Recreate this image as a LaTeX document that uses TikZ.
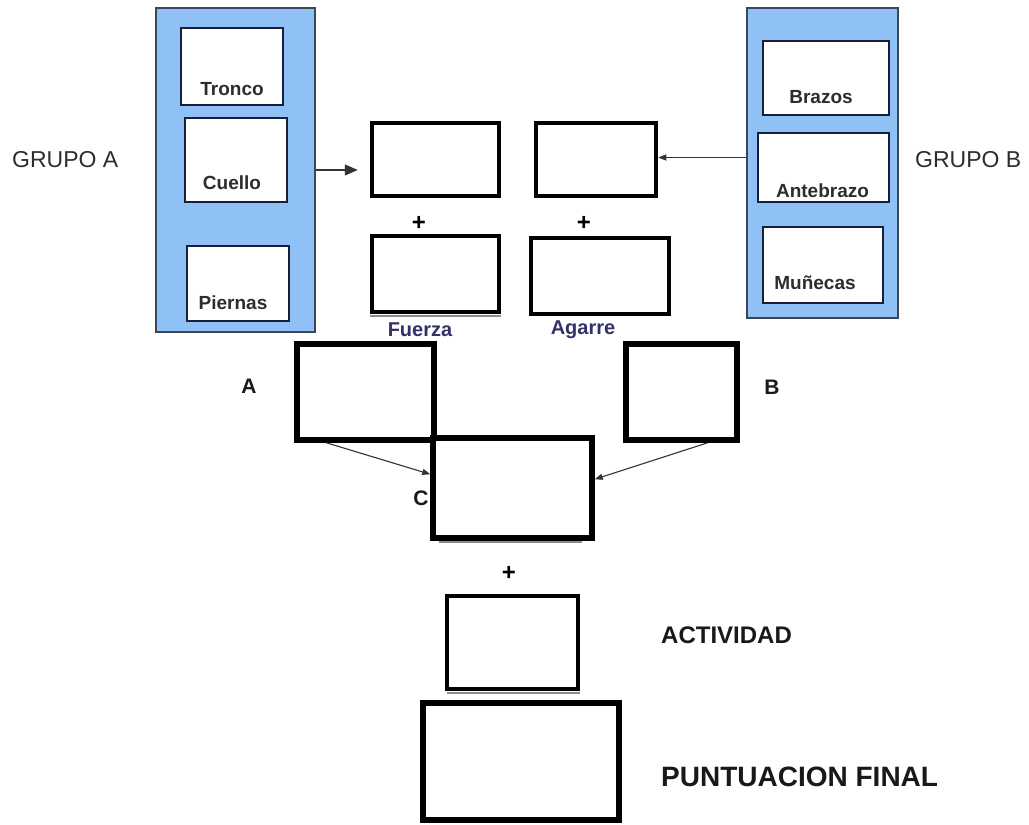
\documentclass[tikz,border=0pt]{standalone}
\usepackage{fontspec}
\setmainfont{Liberation Sans}
\usetikzlibrary{arrows.meta}
\definecolor{panelblue}{RGB}{143,193,246}
\definecolor{panelrim}{RGB}{60,70,85}
\definecolor{innerrim}{RGB}{25,30,55}
\definecolor{labelgray}{RGB}{45,45,45}
\definecolor{navytext}{RGB}{50,50,105}
\begin{document}
\begin{tikzpicture}[x=1pt,y=-1pt,
  panel/.style={draw=panelrim, line width=1.6pt, fill=panelblue, inner sep=0pt},
  partbox/.style={draw=innerrim, line width=2pt, fill=white, inner sep=0pt},
  scorebox/.style={draw=black, line width=4.5pt, fill=white, inner sep=0pt},
  bigbox/.style={scorebox, line width=5.5pt},
  grouplabel/.style={font=\fontsize{23}{26}\selectfont, text=labelgray, inner sep=0pt, anchor=west},
  partlabel/.style={font=\fontsize{19}{22}\selectfont\bfseries, text=labelgray, inner sep=0pt},
  extralabel/.style={font=\fontsize{20}{23}\selectfont\bfseries, text=navytext, inner sep=0pt},
  letterlabel/.style={font=\fontsize{21}{24}\selectfont\bfseries, text=black!90, inner sep=0pt},
  pluslabel/.style={font=\fontsize{24}{26}\selectfont\bfseries, text=black, inner sep=0pt},
  resultlabel/.style={font=\fontsize{24}{27}\selectfont\bfseries, text=black!90, inner sep=0pt, anchor=west},
  finallabel/.style={resultlabel, font=\fontsize{28}{31}\selectfont\bfseries},
  feed/.style={draw=black!80, line width=1.1pt, -{Triangle[length=8pt,width=6pt]}},
  bigfeed/.style={feed, -{Triangle[length=13pt,width=11pt]}},
  shade/.style={draw=black!45, line width=2pt}
]
\fill[white] (0,0) rectangle (1029,825);
\useasboundingbox (0,0) rectangle (1029,825);

% group A: trunk, neck, legs
\node[panel, minimum width=159pt, minimum height=324pt] (panelA) at (235.5,170) {};
\node[partbox, minimum width=102pt, minimum height=77pt] (tronco) at (232,66.5) {};
\node[partbox, minimum width=102pt, minimum height=84pt] (cuello) at (236,160) {};
\node[partbox, minimum width=102pt, minimum height=75pt] (piernas) at (238,283.5) {};
\node[partlabel] (troncoT) at (232,89) {Tronco};
\node[partlabel] (cuelloT) at (232,183) {Cuello};
\node[partlabel] (piernasT) at (233,303) {Piernas};
\node[grouplabel] (grupoA) at (12,160) {GRUPO A};

% group B: arms, forearms, wrists
\node[panel, minimum width=151pt, minimum height=310pt] (panelB) at (822.5,163) {};
\node[partbox, minimum width=126pt, minimum height=74pt] (brazos) at (826,78) {};
\node[partbox, minimum width=131pt, minimum height=69pt] (antebrazo) at (823.5,167.5) {};
\node[partbox, minimum width=120pt, minimum height=76pt] (munecas) at (823,265) {};
\node[partlabel] (brazosT) at (821,97) {Brazos};
\node[partlabel] (antebrazoT) at (822.5,191) {Antebrazo};
\node[partlabel] (munecasT) at (815,283) {Muñecas};
\node[grouplabel] (grupoB) at (915,160) {GRUPO B};

% partial scores with load and grip
\node[scorebox, minimum width=127pt, minimum height=73pt] (scoreA) at (435.5,159.5) {};
\node[scorebox, minimum width=120pt, minimum height=73pt] (scoreB) at (596,159.5) {};
\node[scorebox, minimum width=127pt, minimum height=76pt] (fuerza) at (435.5,274) {};
\node[scorebox, minimum width=138pt, minimum height=76pt] (agarre) at (600,276) {};
\node[pluslabel] (plusA) at (419,223) {+};
\node[pluslabel] (plusB) at (584,223) {+};
\node[extralabel] (fuerzaT) at (420,330) {Fuerza};
\node[extralabel] (agarreT) at (583,330) {Agarre};
\draw[shade] ([yshift=-1.5pt]fuerza.south west) -- ([yshift=-1.5pt]fuerza.south east);

\draw[bigfeed, shorten >=12pt] (panelA.east) -- (scoreA.west |- panelA.east);
\draw[feed] ([yshift=2pt]panelB.west |- scoreB.east) -- ([yshift=2pt]scoreB.east);

% combined scores
\node[bigbox, minimum width=137pt, minimum height=96pt] (boxA) at (365.5,392) {};
\node[bigbox, minimum width=111pt, minimum height=96pt] (boxB) at (681.5,392) {};
\node[bigbox, minimum width=159pt, minimum height=100pt] (boxC) at (512.5,488) {};
\node[letterlabel] (letA) at (249,386) {A};
\node[letterlabel] (letB) at (772,387) {B};
\node[letterlabel] (letC) at (421,498) {C};
\draw[shade] ([xshift=9pt,yshift=-1.5pt]boxC.south west) -- ([xshift=-13pt,yshift=-1.5pt]boxC.south east);

\draw[feed] ([xshift=32pt]boxA.south west) -- ([yshift=-39pt]boxC.north west);
\draw[feed] ([xshift=-32pt]boxB.south east) -- ([yshift=-44pt]boxC.north east);

% activity and final score
\node[pluslabel] (plusC) at (509,573) {+};
\node[scorebox, minimum width=131pt, minimum height=93pt] (actividad) at (512.5,642.5) {};
\draw[shade] ([xshift=2pt,yshift=-1.5pt]actividad.south west) -- ([yshift=-1.5pt]actividad.south east);
\node[resultlabel] (actividadT) at (661,635) {ACTIVIDAD};
\node[bigbox, minimum width=196pt, minimum height=117pt] (final) at (521,761.5) {};
\node[finallabel] (finalT) at (661,777) {PUNTUACION FINAL};
\end{tikzpicture}
\end{document}
